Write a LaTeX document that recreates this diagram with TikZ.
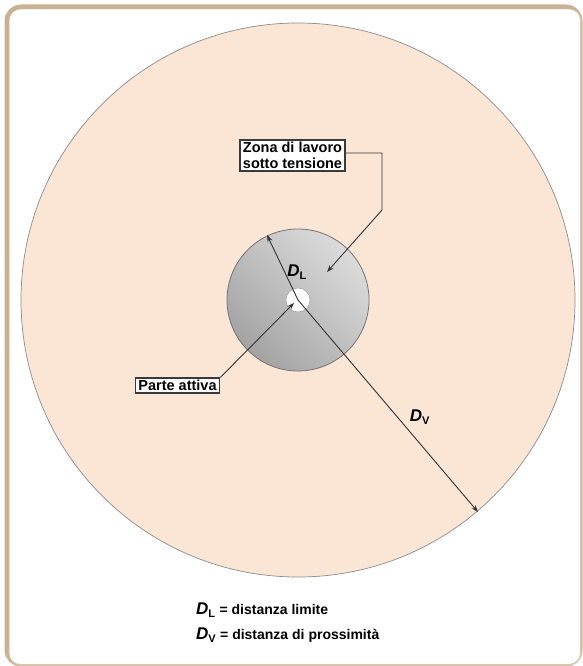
\documentclass[tikz,border=0pt]{standalone}
\usepackage{fontspec}
\setmainfont{Liberation Sans}
\usetikzlibrary{arrows.meta,calc}
\definecolor{frametan}{HTML}{C9B294}
\definecolor{peach}{HTML}{FBE5D5}
\definecolor{boxline}{HTML}{3A3A3A}
\tikzset{
  lbl/.style={draw=boxline, line width=1.5pt, fill=white, font=\bfseries\fontsize{14.5}{16}\selectfont, inner xsep=3pt, inner ysep=2pt, align=left},
  arr/.style={draw=black!80, line width=0.9pt, -{Stealth[length=7pt,width=5pt]}},
  dlab/.style={font=\bfseries\itshape\fontsize{17}{17}\selectfont, inner sep=0pt},
  legtxt/.style={anchor=west, inner sep=0pt, font=\bfseries\fontsize{14}{15}\selectfont}
}
\begin{document}
\begin{tikzpicture}[x=1pt,y=-1pt]
\useasboundingbox (0,0) rectangle (582,666);
% frame
\fill[white] (0,0) rectangle (582,666);
\draw[frametan, line width=5pt, rounded corners=14pt] (7,7) rectangle (580,664);
\draw[frametan!70, line width=1.2pt, rounded corners=12pt] (9.5,9.5) rectangle (581,665);
\fill[white, rounded corners=11pt] (9.5,9.5) rectangle (580,664);
% big circle
\coordinate (c) at (298,300);
\fill[peach] (c) circle (277);
\draw[black!45, line width=0.7pt] (c) circle (277);
% small circle
\shade[shading=axis, top color=gray!28, bottom color=gray!72, shading angle=-45] (c) circle (71);
\draw[black!55, line width=0.8pt] (c) circle (71);
\fill[white] (c) circle (12);
\draw[gray!70, line width=0.6pt] (c) circle (12);
% points
\coordinate (dlend) at ($(c)+(-31,-65)$);
\coordinate (dvend) at (478,512);
\coordinate (zt) at (327,272);
\coordinate (za) at (382,153);
\coordinate (zb) at (382,210);
\node[lbl] (zona) at (292.5,155.5) {Zona di lavoro\\sotto tensione};
\node[lbl] (parte) at (177.5,385.5) {Parte attiva};
% connectors
\draw[arr] (c) -- (dlend);
\draw[arr] (c) -- (dvend);
\draw[arr] (parte.north east) -- ($(c)+(-4,3)$);
\draw[arr] (zona.east |- za) -- (za) -- (zb) -- (zt);
% labels
\node[dlab] (dl) at (297,272) {D\textsubscript{\upshape\fontsize{11}{11}\selectfont L}};
\node[dlab] (dv) at (420,417) {D\textsubscript{\upshape\fontsize{11}{11}\selectfont V}};
% legend
\node[legtxt] (leg1) at (196,610) {{\itshape\fontsize{17}{17}\selectfont D}\textsubscript{\upshape\fontsize{11}{11}\selectfont L} = distanza limite};
\node[legtxt] (leg2) at (196,635) {{\itshape\fontsize{17}{17}\selectfont D}\textsubscript{\upshape\fontsize{11}{11}\selectfont V} = distanza di prossimità};
\end{tikzpicture}
\end{document}
